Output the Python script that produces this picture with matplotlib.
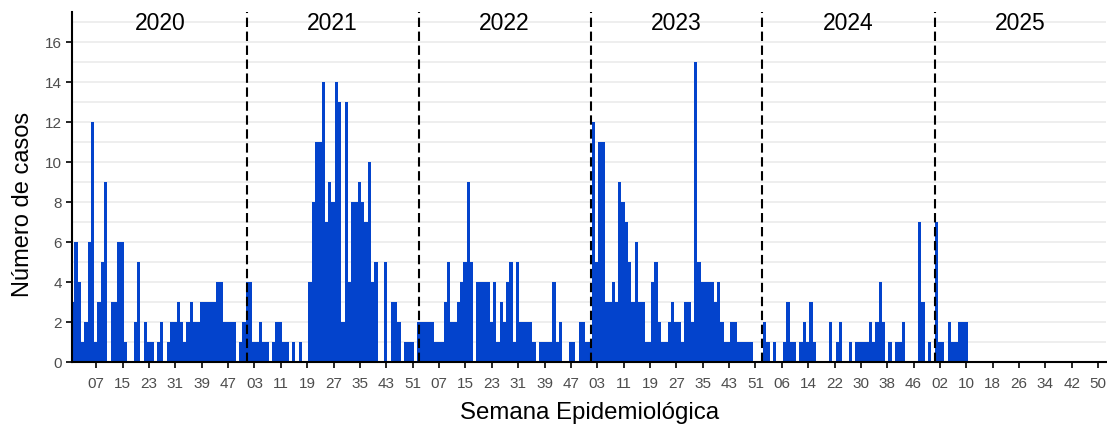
import pandas as pd
import matplotlib
matplotlib.use('Agg')
import matplotlib.pyplot as plt

# casos semanales, una barra por semana epidemiologica (fecha = sabado)
casos_2019 = [3]
casos_2020 = [6, 4, 1, 2, 6, 12, 1, 3, 5, 9, 0, 3, 3, 6, 6, 1, 0, 0, 2, 5,
              0, 2, 1, 1, 0, 1, 2, 0, 1, 2, 2, 3, 2, 1, 2, 3, 2, 2, 3, 3,
              3, 3, 3, 4, 4, 2, 2, 2, 2, 0, 1, 2, 4]
casos_2021 = [4, 1, 1, 2, 1, 1, 0, 1, 2, 2, 1, 1, 0, 1, 0, 1, 0, 0, 4, 8,
              11, 11, 14, 7, 9, 8, 14, 13, 2, 13, 4, 8, 8, 9, 8, 7, 10, 4, 5, 0,
              0, 5, 0, 3, 3, 2, 0, 1, 1, 1, 0, 2]
casos_2022 = [2, 2, 2, 2, 1, 1, 1, 3, 5, 2, 2, 3, 4, 5, 9, 5, 0, 4, 4, 4,
              4, 2, 4, 1, 3, 2, 4, 5, 1, 5, 2, 2, 2, 2, 1, 0, 1, 1, 1, 1,
              4, 1, 2, 0, 0, 1, 1, 0, 2, 2, 1, 1]
casos_2023 = [12, 5, 11, 11, 3, 3, 4, 3, 9, 8, 7, 5, 3, 6, 3, 3, 1, 1, 4, 5,
              2, 1, 1, 2, 3, 2, 2, 1, 3, 3, 2, 15, 5, 4, 4, 4, 4, 3, 4, 2,
              1, 1, 2, 2, 1, 1, 1, 1, 1, 0, 0, 0]
casos_2024 = [2, 1, 0, 1, 0, 0, 1, 3, 1, 1, 0, 1, 2, 1, 3, 1, 0, 0, 0, 0,
              2, 0, 1, 2, 0, 0, 1, 0, 1, 1, 1, 1, 2, 1, 2, 4, 2, 0, 1, 0,
              1, 1, 2, 0, 0, 0, 0, 7, 3, 0, 1, 0]
casos_2025 = [7, 1, 1, 0, 2, 1, 1, 2, 2, 2]

anos = ['2020', '2021', '2022', '2023', '2024', '2025']

casos = casos_2019 + casos_2020 + casos_2021 + casos_2022 + casos_2023 + casos_2024 + casos_2025
semanas = pd.date_range('2019-12-28', periods=len(casos), freq='7D')

plt.rcParams['font.family'] = ['Liberation Sans', 'DejaVu Sans']

fig = plt.figure(figsize=(11.07, 4.26), dpi=100)
ax = fig.add_axes([0.0653, 0.1502, 0.9337, 0.8216])

ax.bar(semanas, casos, width=7, color='#0343cc', linewidth=0, zorder=2)

# separacion entre anos
for a in anos[1:]:
    ax.axvline(pd.Timestamp(a + '-01-01'), color='black', linewidth=1.5,
               linestyle=(0, (4.5, 2.2)), zorder=3)
for a in anos:
    ax.text(pd.Timestamp(a + '-07-01'), 16.95, a, ha='center', va='center', fontsize=16.5)

xt = pd.date_range('2020-02-16', '2025-12-14', freq='56D')
ax.set_xticks(xt)
ax.set_xticklabels([d.strftime('%U') for d in xt])
ax.set_xlim(pd.Timestamp('2019-12-27'), pd.Timestamp('2025-12-30 10:00'))

ax.set_ylim(0, 17.5)
ax.set_yticks(range(0, 17, 2))
ax.set_yticks(range(1, 18, 2), minor=True)
ax.grid(axis='y', which='both', color='#ebebeb', linewidth=1.2, zorder=0)
ax.set_axisbelow(True)

ax.tick_params(which='major', length=4, width=1.2, color='black',
               labelcolor='#4d4d4d', labelsize=11)
ax.tick_params(axis='x', which='major', pad=6.5)
ax.tick_params(which='minor', length=0)
for s in ['top', 'right']:
    ax.spines[s].set_visible(False)
for s in ['left', 'bottom']:
    ax.spines[s].set_linewidth(1.5)

ax.set_ylabel('Número de casos', fontsize=17)
ax.yaxis.set_label_coords(-0.037, 0.45)
ax.set_xlabel('Semana Epidemiológica', fontsize=17.3, labelpad=8)

fig.savefig('out.png', dpi=100)
